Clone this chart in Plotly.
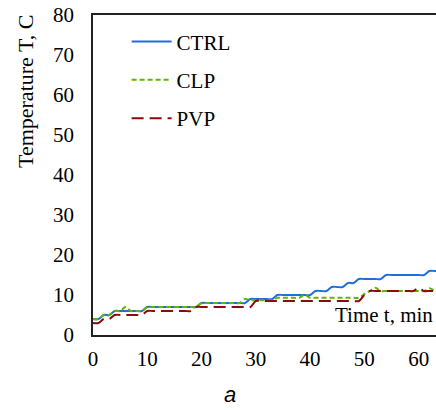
import plotly.graph_objects as go

time_min = list(range(0, 65))
ctrl = [4, 4, 5, 5, 6, 6, 6, 6, 6, 6,
        7, 7, 7, 7, 7, 7, 7, 7, 7, 7,
        8, 8, 8, 8, 8, 8, 8, 8, 8, 9,
        9, 9, 9, 9, 10, 10, 10, 10, 10, 10,
        10, 11, 11, 11, 12, 12, 12, 13, 13, 14,
        14, 14, 14, 14, 15, 15, 15, 15, 15, 15,
        15, 15, 16, 16, 16]
clp = [4, 4, 5, 5, 6, 6, 7, 6, 6, 6,
       7, 7, 7, 7, 7, 7, 7, 7, 7, 7,
       8, 8, 8, 8, 8, 8, 8, 8, 9, 8.7,
       8.7, 8.7, 8.7, 8.7, 9.3, 9.3, 9.3, 9.3, 9.3, 10,
       9.3, 9.3, 9.3, 9.3, 9.3, 9.3, 9.3, 9.3, 9.3, 9.3,
       10.2, 11, 11.8, 11, 11, 11, 11, 11, 11, 11,
       11, 11, 11.7, 11, 11]
pvp = [3, 3, 4, 4, 5, 5, 5, 5, 5, 5,
       6, 6, 6, 6, 6, 6, 6, 6, 6, 7,
       7, 7, 7, 7, 7, 7, 7, 7, 7, 7,
       8.5, 8.5, 8.5, 8.5, 8.5, 8.5, 8.5, 8.5, 8.5, 8.5,
       8.5, 8.5, 8.5, 8.5, 8.5, 8.5, 8.5, 8.5, 8.5, 8.5,
       10, 11, 11, 11, 11, 11, 11, 11, 11, 11,
       11.8, 11, 11, 11, 11]
y_ticks = [0, 10, 20, 30, 40, 50, 60, 70, 80]
x_ticks = [0, 10, 20, 30, 40, 50, 60]

SERIF = "Liberation Serif"
FS = 21

fig = go.Figure()
series = [
    ("CTRL", ctrl, "#1f6fd6", "solid"),
    ("CLP", clp, "#5cb800", "5px,3px"),
    ("PVP", pvp, "#8b0a0a", "12px,6px"),
]
for name, vals, col, dash in series:
    fig.add_trace(go.Scatter(
        x=time_min, y=vals, name=name, mode="lines", legendgroup=name,
        line=dict(color=col, width=2, dash=dash, shape="spline", smoothing=1),
    ))

fig.update_layout(
    template="none",
    width=436, height=410,
    margin=dict(l=93, r=0, t=15, b=75),
    paper_bgcolor="white", plot_bgcolor="white",
    font=dict(family=SERIF, size=FS, color="black"),
    showlegend=True,
    legend=dict(x=0.098, y=0.98, xanchor="left", yanchor="top",
                bgcolor="rgba(0,0,0,0)", font=dict(family=SERIF, size=FS, color="black"),
                tracegroupgap=8, itemwidth=40),
    xaxis=dict(range=[0, 63.2], tickvals=x_ticks, showgrid=False, zeroline=False,
               automargin=False,
               showline=True, linecolor="#222", linewidth=1.5, mirror=True,
               ticks="outside", ticklen=4, tickcolor="rgba(0,0,0,0)",
               tickfont=dict(size=FS, family=SERIF, color="black")),
    yaxis=dict(range=[0, 80], tickvals=y_ticks, showgrid=False, zeroline=False,
               automargin=False,
               showline=True, linecolor="#222", linewidth=1.5, mirror=False,
               ticks="outside", ticklen=13, tickcolor="rgba(0,0,0,0)",
               tickfont=dict(size=FS, family=SERIF, color="black")),
    annotations=[
        dict(text="Temperature T, C", xref="paper", yref="paper",
             x=(25 - 93) / 343, y=(335 - 92) / 320, textangle=-90,
             showarrow=False, xanchor="center", yanchor="middle",
             font=dict(family=SERIF, size=22)),
        dict(text="Time t, min", xref="paper", yref="paper",
             x=(435 - 93) / 343, y=(335 - 315) / 320,
             showarrow=False, xanchor="right", yanchor="middle",
             font=dict(family=SERIF, size=FS)),
        dict(text="<i>a</i>", xref="paper", yref="paper",
             x=(230 - 93) / 343, y=(335 - 394) / 320,
             showarrow=False, xanchor="center", yanchor="middle",
             font=dict(family="Liberation Sans", size=22)),
    ],
)

fig.write_html("out.html")
